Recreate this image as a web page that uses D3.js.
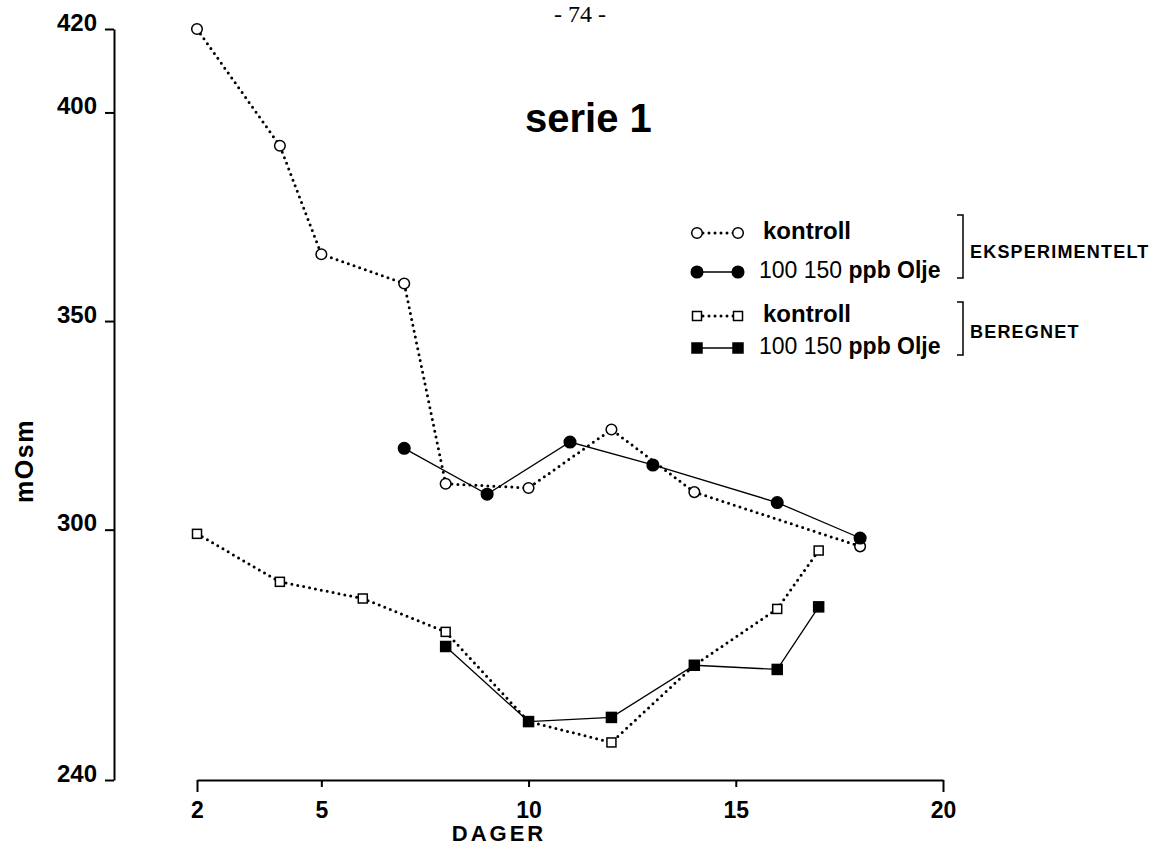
<!DOCTYPE html>
<html>
<head>
<meta charset="utf-8">
<script src="https://cdn.jsdelivr.net/npm/d3@7"></script>
<style>
  body { margin: 0; background: #fff; }
  text { font-family: "Liberation Sans", Arial, Helvetica, sans-serif; fill: #000; }
</style>
</head>
<body>
<div id="chart"></div>
<script>
// Data (days, mOsm)
const expKontrollDays = [2, 4, 5, 7, 8, 10, 12, 14, 18];
const expKontrollVals = [420, 392, 366, 359, 311, 310, 324, 309, 296];
const expOljeDays = [7, 9, 11, 13, 16, 18];
const expOljeVals = [319.5, 308.5, 321, 315.5, 306.5, 298];
const berKontrollDays = [2, 4, 6, 8, 10, 12, 14, 16, 17];
const berKontrollVals = [299, 287.5, 283.5, 275.5, 254, 249, 267.5, 281, 295];
const berOljeDays = [8, 10, 12, 14, 16, 17];
const berOljeVals = [272, 254, 255, 267.5, 266.5, 281.5];

const xTicks = [2, 5, 10, 15, 20];
const yTicks = [240, 300, 350, 400, 420];

const width = 1168;
const height = 861;

const svg = d3.select("#chart")
    .append("svg")
    .attr("width", width)
    .attr("height", height);

svg.append("rect")
    .attr("width", width)
    .attr("height", height)
    .attr("fill", "#fff");

// Scales
const x = d3.scaleLinear().domain([2, 20]).range([197, 943]);
const y = d3.scaleLinear().domain([240, 420]).range([780, 29]);

// Y axis
const yAxis = svg.append("g")
    .attr("transform", "translate(114,0)")
    .call(d3.axisLeft(y).tickValues(yTicks).tickSize(9).tickSizeOuter(0).tickPadding(8));
yAxis.select(".domain").attr("stroke-width", 2);
yAxis.selectAll(".tick line").attr("stroke-width", 2);
yAxis.selectAll(".tick text")
    .attr("dy", "0.05em")
    .attr("font-size", 24)
    .attr("font-weight", "bold")
    .attr("font-family", "Liberation Sans, Arial, sans-serif")
    .attr("fill", "#000");

// X axis
const xAxis = svg.append("g")
    .attr("transform", "translate(0,780)")
    .call(d3.axisBottom(x).tickValues(xTicks).tickSize(12).tickSizeOuter(0));
xAxis.select(".domain").attr("stroke-width", 2);
xAxis.selectAll(".tick line")
    .attr("stroke-width", 2)
    .attr("y2", d => (d === 2 || d === 20) ? 12 : 7);
xAxis.selectAll(".tick text")
    .attr("y", 38)
    .attr("dy", "0")
    .attr("font-size", 23)
    .attr("font-weight", "bold")
    .attr("font-family", "Liberation Sans, Arial, sans-serif")
    .attr("fill", "#000");

// Axis titles
svg.append("text")
    .attr("transform", "translate(33,461) rotate(-90)")
    .attr("text-anchor", "middle")
    .attr("font-size", 25)
    .attr("font-weight", "bold")
    .attr("letter-spacing", 1.5)
    .text("mOsm");

svg.append("text")
    .attr("x", 499)
    .attr("y", 841)
    .attr("text-anchor", "middle")
    .attr("font-size", 22)
    .attr("font-weight", "bold")
    .attr("letter-spacing", 3)
    .text("DAGER");

// Page number and title
svg.append("text")
    .attr("x", 580)
    .attr("y", 22)
    .attr("text-anchor", "middle")
    .attr("font-size", 24)
    .style("font-family", "Liberation Serif, serif")
    .text("- 74 -");

svg.append("text")
    .attr("x", 525)
    .attr("y", 132)
    .attr("font-size", 40)
    .attr("font-weight", "bold")
    .text("serie 1");

// Lines
const line = d3.line()
    .x(d => x(d.day))
    .y(d => y(d.val));

const toPoints = (days, vals) => days.map((day, i) => ({ day, val: vals[i] }));

const series = [
    { pts: toPoints(expKontrollDays, expKontrollVals), dotted: true, shape: "circle", filled: false },
    { pts: toPoints(expOljeDays, expOljeVals), dotted: false, shape: "circle", filled: true },
    { pts: toPoints(berKontrollDays, berKontrollVals), dotted: true, shape: "square", filled: false },
    { pts: toPoints(berOljeDays, berOljeVals), dotted: false, shape: "square", filled: true }
];

function styleLine(sel, dotted) {
    if (dotted) {
        sel.attr("stroke", "#000")
            .attr("stroke-width", 3)
            .attr("stroke-linecap", "round")
            .attr("stroke-dasharray", "0 6");
    } else {
        sel.attr("stroke", "#000")
            .attr("stroke-width", 1.3);
    }
    return sel;
}

function drawMarker(g, shape, filled, cx, cy) {
    if (shape === "circle") {
        g.append("circle")
            .attr("cx", cx).attr("cy", cy)
            .attr("r", filled ? 5.8 : 5.3)
            .attr("fill", filled ? "#000" : "#fff")
            .attr("stroke", "#000")
            .attr("stroke-width", 1.5);
    } else {
        const s = filled ? 10 : 9;
        g.append("rect")
            .attr("x", cx - s / 2).attr("y", cy - s / 2)
            .attr("width", s).attr("height", s)
            .attr("fill", filled ? "#000" : "#fff")
            .attr("stroke", "#000")
            .attr("stroke-width", 1.5);
    }
}

series.forEach(s => {
    styleLine(svg.append("path")
        .datum(s.pts)
        .attr("fill", "none")
        .attr("d", line), s.dotted);
    const g = svg.append("g");
    s.pts.forEach(p => drawMarker(g, s.shape, s.filled, x(p.day), y(p.val)));
});

// Legend
const legendRows = [
    { y: 233, s: series[0], tx: 763, label: "kontroll" },
    { y: 272, s: series[1], tx: 759, label: "olje" },
    { y: 316, s: series[2], tx: 763, label: "kontroll" },
    { y: 348, s: series[3], tx: 759, label: "olje" }
];

legendRows.forEach(r => {
    styleLine(svg.append("line")
        .attr("x1", 697).attr("x2", 738)
        .attr("y1", r.y).attr("y2", r.y), r.s.dotted);
    const g = svg.append("g");
    drawMarker(g, r.s.shape, r.s.filled, 697, r.y);
    drawMarker(g, r.s.shape, r.s.filled, 738, r.y);
    const t = svg.append("text")
        .attr("x", r.tx)
        .attr("y", r.y + 6);
    if (r.label === "kontroll") {
        t.attr("font-size", 24).attr("font-weight", "bold").text("kontroll");
    } else {
        t.attr("font-size", 23);
        t.append("tspan").text("100 150 ");
        t.append("tspan").attr("font-weight", "bold").text("ppb Olje");
    }
});

// Group brackets
const groups = [
    { y0: 215, y1: 278, ty: 258, label: "EKSPERIMENTELT" },
    { y0: 302, y1: 355, ty: 338, label: "BEREGNET" }
];
groups.forEach(gr => {
    svg.append("path")
        .attr("d", `M957,${gr.y0}H963V${gr.y1}H957`)
        .attr("fill", "none")
        .attr("stroke", "#000")
        .attr("stroke-width", 1.5);
    svg.append("text")
        .attr("x", 970)
        .attr("y", gr.ty)
        .attr("font-size", 18)
        .attr("font-weight", "bold")
        .attr("letter-spacing", 1.2)
        .text(gr.label);
});
</script>
</body>
</html>
